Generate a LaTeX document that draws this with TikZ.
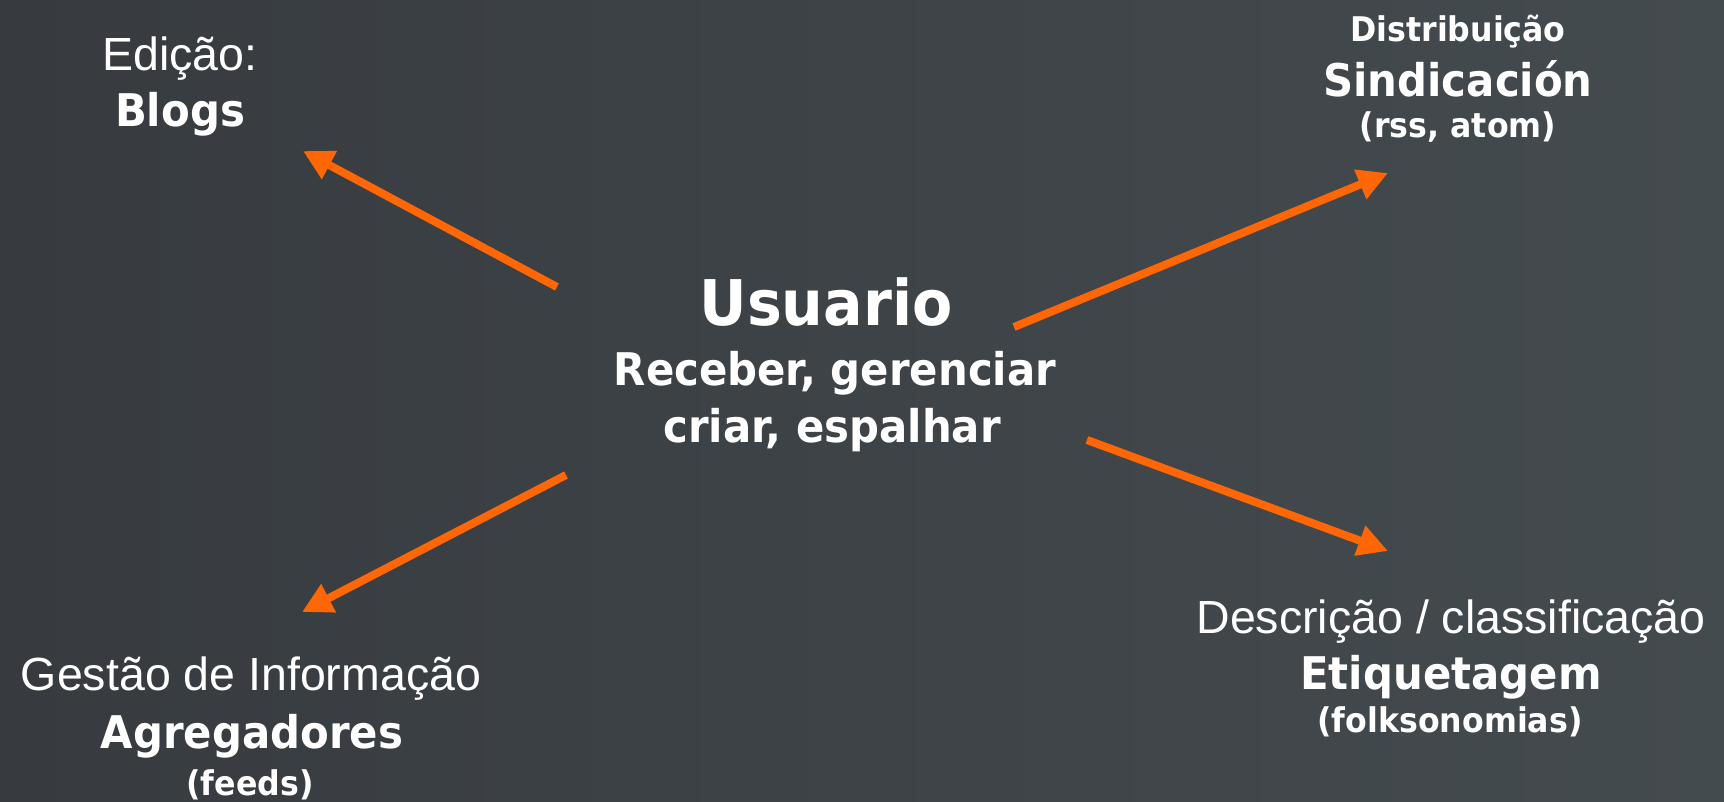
\documentclass[tikz,border=0pt]{standalone}
\usepackage{fontspec}
\setmainfont{Liberation Sans}
\newfontfamily\headfont[FakeStretch=0.93]{DejaVu Sans}
\usepackage{tikz}
\usetikzlibrary{arrows.meta,positioning,calc}
\definecolor{bgleft}{RGB}{55,59,64}
\definecolor{bgright}{RGB}{68,75,78}
\definecolor{arrorange}{RGB}{255,102,5}

\begin{document}
\begin{tikzpicture}[x=1pt, y=-1pt, arrow/.style={draw=arrorange, line width=8pt, -{Triangle[length=30pt,width=30pt]}},
  txt/.style={text=white, anchor=base, inner sep=0pt},
  plain node/.style={txt, font=\fontsize{46.5}{56}\selectfont},
  head node/.style={txt, font=\headfont\bfseries\fontsize{45}{54}\selectfont},
  note node/.style={txt, font=\headfont\bfseries\fontsize{34}{40}\selectfont}]
\useasboundingbox (0,0) rectangle (1724,801);
\shade[left color=bgleft, right color=bgright] (0,0) rectangle (1724,801);%background
\begin{scope}
\node[txt, font=\headfont\bfseries\fontsize{63}{75}\selectfont] (usr) at (826,325) {Usuario};
\node[head node] (rcb) at (835,385) {Receber, gerenciar};
\node[head node] (crr) at (832,442) {criar, espalhar};
\end{scope}
\begin{scope}
\node[plain node] (edi) at (180,70) {Edição:};
\node[head node] (blg) at (180,126) {Blogs};
\node[note node] (dst) at (1458,41) {Distribuição};
\node[head node] (snd) at (1458,96) {Sindicación};
\node[note node] (rss) at (1458,137) {(rss, atom)};
\node[plain node] (gst) at (251,690) {Gestão de Informação};
\node[head node] (agr) at (252,748) {Agregadores};
\node[note node] (fds) at (250,795) {(feeds)};
\node[plain node] (dsc) at (1451,633) {Descrição / classificação};
\node[head node] (etq) at (1451,689) {Etiquetagem};
\node[note node] (fks) at (1450,732) {(folksonomias)};
\end{scope}
\begin{scope}
\coordinate (t1) at (557,287); \coordinate (h1) at (303,151);
\coordinate (t2) at (1014,327); \coordinate (h2) at (1388,173);
\coordinate (t3) at (566,475); \coordinate (h3) at (302,612);
\coordinate (t4) at (1087,440); \coordinate (h4) at (1388,551);
\draw[arrow] (t1) -- (h1);
\draw[arrow] (t2) -- (h2);
\draw[arrow] (t3) -- (h3);
\draw[arrow] (t4) -- (h4);
\end{scope}
\end{tikzpicture}
\end{document}
